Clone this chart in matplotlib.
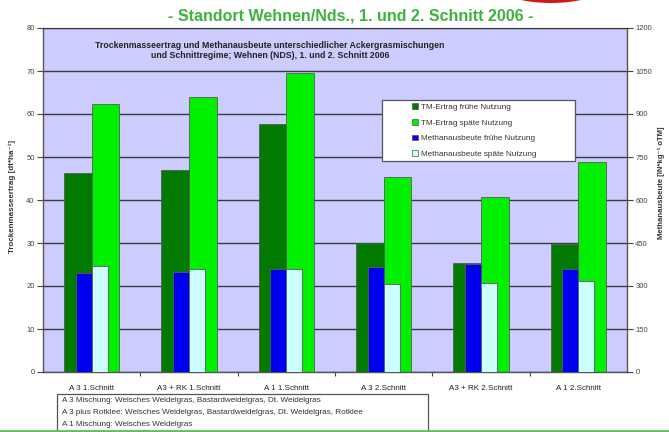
import matplotlib
matplotlib.use("Agg")
import matplotlib.pyplot as plt
import numpy as np
from matplotlib.patches import Rectangle, Ellipse, Patch
from matplotlib.lines import Line2D

plt.rcParams['font.family'] = ['Liberation Sans', 'DejaVu Sans']

categories = ["A 3 1.Schnitt", "A3 + RK 1.Schnitt", "A 1 1.Schnitt",
              "A 3 2.Schnitt", "A3 + RK 2.Schnitt", "A 1 2.Schnitt"]
tm_frueh = [46.3, 47.0, 57.6, 30.0, 25.3, 29.8]
tm_spaet = [62.3, 64.0, 69.6, 45.3, 40.8, 48.8]
methan_frueh = [347, 350, 361, 367, 376, 360]
methan_spaet = [370, 360, 360, 306, 312, 318]
series_names = ["TM-Ertrag frühe Nutzung", "TM-Ertrag späte Nutzung",
                "Methanausbeute frühe Nutzung", "Methanausbeute späte Nutzung"]
left_ticks = [0, 10, 20, 30, 40, 50, 60, 70, 80]
right_ticks = [0, 150, 300, 450, 600, 750, 900, 1050, 1200]
notes = ["A 3 Mischung: Welsches Weidelgras, Bastardweidelgras, Dt. Weidelgras",
         "A 3 plus Rotklee: Welsches Weidelgras, Bastardweidelgras, Dt. Weidelgras, Rotklee",
         "A 1 Mischung: Welsches Weidelgras"]

colors = ['#007A00', '#00F000', '#0000F0', '#CCFFFF']
W, H = 669, 432
fig = plt.figure(figsize=(W / 100, H / 100), dpi=100)
fig.patch.set_facecolor('white')

def fx(px):
    return px / W

def fy(py):
    return 1 - py / H

ax = fig.add_axes([fx(43), fy(372), fx(627) - fx(43), fy(28) - fy(372)])
ax.set_facecolor('#CCCCFF')
x = np.arange(len(categories))
ax.bar(x - 0.142, tm_frueh, width=0.284, color=colors[0], edgecolor='#5a5a5a', linewidth=0.6, zorder=2)
ax.bar(x + 0.142, tm_spaet, width=0.284, color=colors[1], edgecolor='#5a5a5a', linewidth=0.6, zorder=2)
ax.set_ylim(0, 80)
ax.set_xlim(-0.5, len(categories) - 0.5)
ax.set_yticks(left_ticks)
ax.yaxis.grid(True, color='#3a3a3a', linewidth=1.0, zorder=0)
ax.set_axisbelow(True)
ax.tick_params(axis='y', labelsize=5.5, labelcolor='#444444', length=4, width=0.8, color='#444444', pad=2)
ax.set_xticks(x)
ax.set_xticklabels(categories, fontsize=5.8, color='#222222')
ax.tick_params(axis='x', which='major', length=0, pad=9)
ax.set_xticks(np.arange(len(categories) - 1) + 0.5, minor=True)
ax.tick_params(axis='x', which='minor', length=3, width=0.8, color='#444444', direction='out')
for s in ['left', 'bottom', 'right']:
    ax.spines[s].set_color('#555555')
    ax.spines[s].set_linewidth(1.0)
ax.spines['top'].set_color('#3a3a3a')
ax.set_ylabel("Trockenmasseertrag [dt*ha⁻¹]", fontsize=5.8, fontweight='bold', color='#333333')
ax.yaxis.set_label_coords(-0.046, 0.51)

ax2 = ax.twinx()
ax2.bar(x - 0.082, methan_frueh, width=0.164, color=colors[2], edgecolor='#5a5a5a', linewidth=0.6, zorder=3)
ax2.bar(x + 0.082, methan_spaet, width=0.164, color=colors[3], edgecolor='#5a5a5a', linewidth=0.6, zorder=3)
ax2.set_ylim(0, 1200)
ax2.set_yticks(right_ticks)
ax2.tick_params(axis='y', labelsize=5.5, labelcolor='#444444', length=4, width=0.8, color='#444444', pad=2)
for s in ['left', 'bottom', 'right', 'top']:
    ax2.spines[s].set_visible(False)
ax2.set_ylabel("Methanausbeute [lN*kg⁻¹ oTM]", fontsize=5.6, fontweight='bold', color='#333333')
ax2.yaxis.set_label_coords(1.053, 0.55)

# Legend box (Excel-style with space on the left)
fig.patches.append(Rectangle((fx(382), fy(161)), fx(575) - fx(382), fy(100) - fy(161),
                             transform=fig.transFigure, facecolor='white',
                             edgecolor='#555555', linewidth=0.9, zorder=5))
handles = [Patch(facecolor=c, edgecolor='#555555', linewidth=0.5) for c in colors]
leg = fig.legend(handles, series_names, loc='upper left', bbox_to_anchor=(fx(410), fy(101)),
                 frameon=False, fontsize=5.9, handlelength=0.7, handleheight=0.7,
                 handletextpad=0.3, labelspacing=0.95, borderaxespad=0, borderpad=0.3)
leg.set_zorder(6)
for t in leg.get_texts():
    t.set_color('#333333')

# Titles
fig.text(fx(351), fy(16), "- Standort Wehnen/Nds., 1. und 2. Schnitt 2006 -", fontsize=11.5,
         fontweight='bold', color='#3DB33D', ha='center', va='center')
fig.text(fx(270), fy(45), "Trockenmasseertrag und Methanausbeute unterschiedlicher Ackergrasmischungen",
         fontsize=6.3, fontweight='bold', color='#222222', ha='center', va='center', zorder=7)
fig.text(fx(270), fy(56), "und Schnittregime; Wehnen (NDS), 1. und 2. Schnitt 2006",
         fontsize=6.3, fontweight='bold', color='#222222', ha='center', va='center', zorder=7)

# Notes box
fig.patches.append(Rectangle((fx(57), fy(440)), fx(428) - fx(57), fy(394) - fy(440),
                             transform=fig.transFigure, facecolor='white',
                             edgecolor='#555555', linewidth=0.9, zorder=1))
for i, line in enumerate(notes):
    fig.text(fx(62), fy(401 + 12 * i), line, fontsize=5.9, color='#333333', ha='left', va='center')

# Decorations: green rule at bottom, red ellipse at top
fig.lines.append(Line2D([0, 1], [fy(430.5), fy(430.5)], transform=fig.transFigure,
                        color='#5EBF5E', linewidth=2.0))
fig.patches.append(Ellipse((fx(551), fy(-12)), fx(100), 30 / H, transform=fig.transFigure,
                           facecolor='#D01818', edgecolor='none'))

fig.savefig("out.png", dpi=100, facecolor='white')
